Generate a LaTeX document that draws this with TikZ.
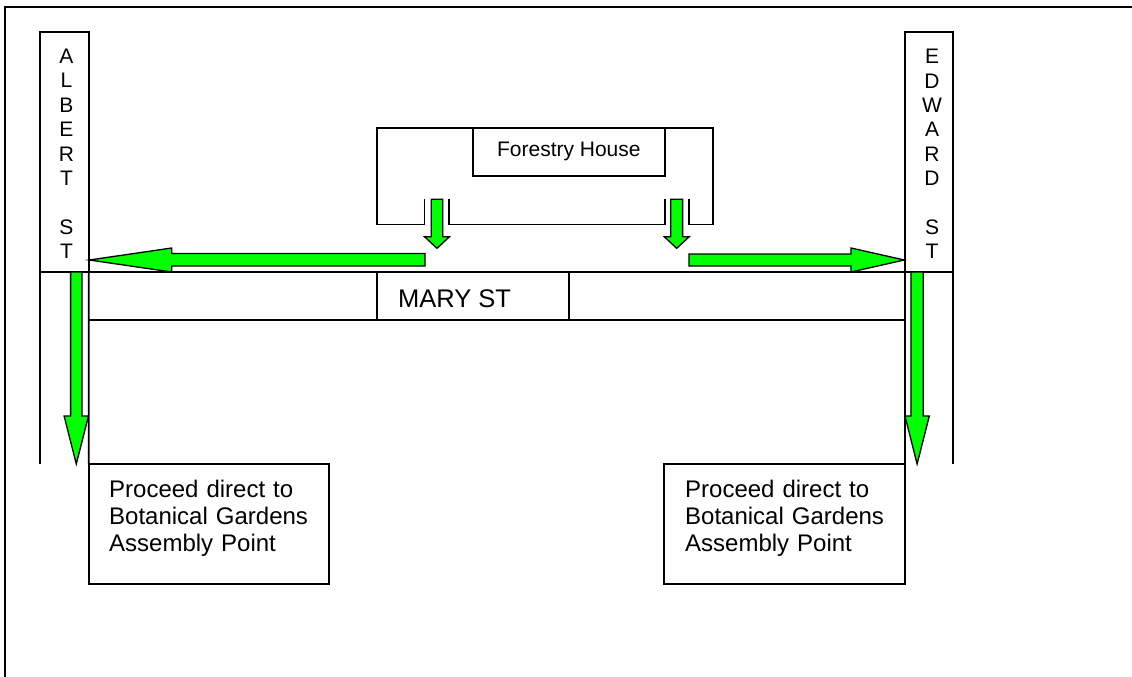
\documentclass[tikz,border=0pt]{standalone}
\usepackage{fontspec}
\setmainfont{Liberation Sans}
\definecolor{arrowgreen}{RGB}{0,255,0}
\begin{document}
\begin{tikzpicture}[x=1pt,y=-1pt,
  ln/.style={line width=1.6pt},
  box/.style={draw, line width=1.6pt, inner sep=0pt, outer sep=0pt},
  garrow/.style={fill=arrowgreen, draw=black, line width=1.3pt, line join=miter},
  streettext/.style={inner sep=0pt, text width=30pt, align=center,
    font=\fontsize{21}{24.4}\selectfont},
  proceedtext/.style={inner sep=0pt, text width=225pt, align=left,
    font=\fontsize{24}{27.3}\selectfont}]
\useasboundingbox (0,0) rectangle (1132,677);
% outer frame (top and left edges visible)
\draw[ln] (1132,7) -- (5,7) -- (5,677);
% street boxes
\node[box, minimum width=48.7pt, minimum height=240pt] (albert) at (64.35,152) {};
\node[box, minimum width=48pt, minimum height=240pt] (edward) at (929,152) {};
\node[box, minimum width=192.3pt, minimum height=48pt] (mary) at (472.85,296) {};
\node[box, minimum width=240.3pt, minimum height=120pt] (lproc) at (208.85,524) {};
\node[box, minimum width=241pt, minimum height=120pt] (rproc) at (784.5,524) {};
% Mary St lines
\draw[ln] (albert.south west) -- (edward.south east);
\draw[ln] (albert.south east |- mary.south) -- (edward.south west |- mary.south);
% Albert / Edward St lines
\draw[ln] (albert.south west) -- (albert.south west |- lproc.north);
\draw[ln] (albert.south east) -- (lproc.north west);
\draw[ln] (edward.south west) -- (rproc.north east);
\draw[ln] (edward.south east) -- (edward.south east |- rproc.north);
% Forestry House
\coordinate (fl1) at (424.3,199.3);
\coordinate (fl2) at (448.7,199.3);
\coordinate (fr1) at (664.7,199.3);
\coordinate (fr2) at (689,199.3);
\draw[ln] (fl1) -- (424.3,224.3) -- (376.7,224.3) -- (376.7,127.7) -- (712.7,127.7) -- (712.7,224.3) -- (689,224.3) -- (fr2);
\draw[ln] (fl2) -- (448.7,224.3) -- (664.7,224.3) -- (fr1);
\node[box, minimum width=192.3pt, minimum height=48.3pt, font=\fontsize{21}{24}\selectfont] (forestry) at (568.85,151.85) {Forestry House};
% texts
\node[streettext, anchor=base] (albtext) at (66.5,63.6) {A\\L\\B\\E\\R\\T\\\mbox{}\\S\\T};
\node[streettext, anchor=base] (edwtext) at (932,63.8) {E\\D\\W\\A\\R\\D\\\mbox{}\\S\\T};
\node[inner sep=0pt, anchor=base west, font=\fontsize{25.5}{28}\selectfont] (marytext) at (398,307) {MARY ST};
\node[proceedtext, anchor=base west] (ltext) at (109,497.3) {Proceed direct to\\Botanical Gardens\\Assembly Point};
\node[proceedtext, anchor=base west] (rtext) at (685,497.3) {Proceed direct to\\Botanical Gardens\\Assembly Point};
% green arrows
\draw[garrow] (425,253.5) -- (171.7,253.5) -- (171.7,248) -- (89.3,260) -- (171.7,272) -- (171.7,266) -- (425,266) -- cycle;
\draw[garrow] (689,254) -- (851,254) -- (851,248) -- (904.3,260) -- (851,272) -- (851,266) -- (689,266) -- cycle;
\draw[garrow] (70.6,272) -- (82,272) -- (82,416) -- (88.5,416) -- (76.3,464) -- (64.1,416) -- (70.6,416) -- cycle;
\draw[garrow] (911,272) -- (923.2,272) -- (923.2,416) -- (929.3,416) -- (917.1,464) -- (905,416) -- (911,416) -- cycle;
\draw[garrow] (431.2,199.3) -- (442.8,199.3) -- (442.8,236.7) -- (449.5,236.7) -- (437,248.3) -- (424.5,236.7) -- (431.2,236.7) -- cycle;
\draw[garrow] (670.8,199.3) -- (682.6,199.3) -- (682.6,236.7) -- (689.2,236.7) -- (676.7,248.3) -- (664.2,236.7) -- (670.8,236.7) -- cycle;
\end{tikzpicture}
\end{document}
